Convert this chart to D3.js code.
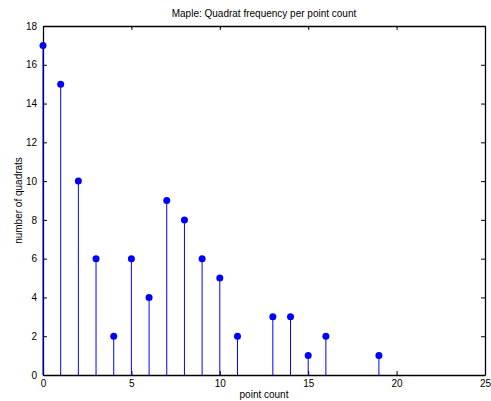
<!DOCTYPE html>
<html>
<head>
<meta charset="utf-8">
<script src="https://cdn.jsdelivr.net/npm/d3@7"></script>
<style>
  html, body { margin: 0; padding: 0; background: #fff; }
  svg text { font-family: "Liberation Sans", Arial, Helvetica, sans-serif; fill: #000; }
</style>
</head>
<body>
<div id="chart"></div>
<script>
// Quadrat counts: how many quadrats contain a given number of maple trees
const pointCounts = [0, 1, 2, 3, 4, 5, 6, 7, 8, 9, 10, 11, 13, 14, 15, 16, 19];
const quadratCounts = [17, 15, 10, 6, 2, 6, 4, 9, 8, 6, 5, 2, 3, 3, 1, 2, 1];
const xTicks = [0, 5, 10, 15, 20, 25];
const yTicks = [0, 2, 4, 6, 8, 10, 12, 14, 16, 18];

const width = 491, height = 401;
const margin = { left: 43, right: 6, top: 26, bottom: 26 };
const innerW = width - margin.left - margin.right;
const innerH = height - margin.top - margin.bottom;

const svg = d3.select("#chart").append("svg")
  .attr("width", width).attr("height", height);

const x = d3.scaleLinear().domain([0, 25]).range([margin.left, margin.left + innerW]);
const y = d3.scaleLinear().domain([0, 18]).range([margin.top + innerH, margin.top]);

const tickLen = 4;
const fontSize = 10;

// Axes with inward ticks on all four sides
const axisG = svg.append("g");
const axBottom = axisG.append("g").attr("transform", `translate(0,${y(0)})`)
  .call(d3.axisBottom(x).tickValues(xTicks).tickSizeInner(-tickLen).tickSizeOuter(0).tickPadding(5));
axisG.append("g").attr("transform", `translate(0,${y(18)})`)
  .call(d3.axisTop(x).tickValues(xTicks).tickSizeInner(-tickLen).tickSizeOuter(0).tickFormat(""));
axisG.append("g").attr("transform", `translate(${x(0)},0)`)
  .call(d3.axisLeft(y).tickValues(yTicks).tickSizeInner(-tickLen).tickSizeOuter(0).tickPadding(6));
axisG.append("g").attr("transform", `translate(${x(25)},0)`)
  .call(d3.axisRight(y).tickValues(yTicks).tickSizeInner(-tickLen).tickSizeOuter(0).tickFormat(""));

axisG.selectAll(".domain").attr("stroke", "#000").attr("stroke-width", 1.3);
axisG.selectAll(".tick line").attr("stroke", "#000").attr("stroke-width", 1);
axisG.selectAll(".tick text").attr("font-size", fontSize)
  .attr("font-family", '"Liberation Sans", Arial, sans-serif').attr("fill", "#000");
axBottom.selectAll(".tick text").attr("dy", "0.71em");

// Stems and markers
const stems = svg.append("g");
stems.selectAll("line").data(pointCounts).join("line")
  .attr("x1", (d) => x(d)).attr("x2", (d) => x(d))
  .attr("y1", y(0)).attr("y2", (d, i) => y(quadratCounts[i]))
  .attr("stroke", "#0000ff").attr("stroke-width", 1);
stems.selectAll("circle").data(pointCounts).join("circle")
  .attr("cx", (d) => x(d)).attr("cy", (d, i) => y(quadratCounts[i]))
  .attr("r", 3.5).attr("fill", "#0000ff");

// Titles
svg.append("text").attr("x", x(12.5)).attr("y", 17)
  .attr("text-anchor", "middle").attr("font-size", fontSize)
  .text("Maple: Quadrat frequency per point count");
svg.append("text").attr("x", x(12.5)).attr("y", 398)
  .attr("text-anchor", "middle").attr("font-size", fontSize)
  .text("point count");
svg.append("text").attr("transform", `translate(22,${y(9)}) rotate(-90)`)
  .attr("text-anchor", "middle").attr("font-size", fontSize)
  .text("number of quadrats");
</script>
</body>
</html>
